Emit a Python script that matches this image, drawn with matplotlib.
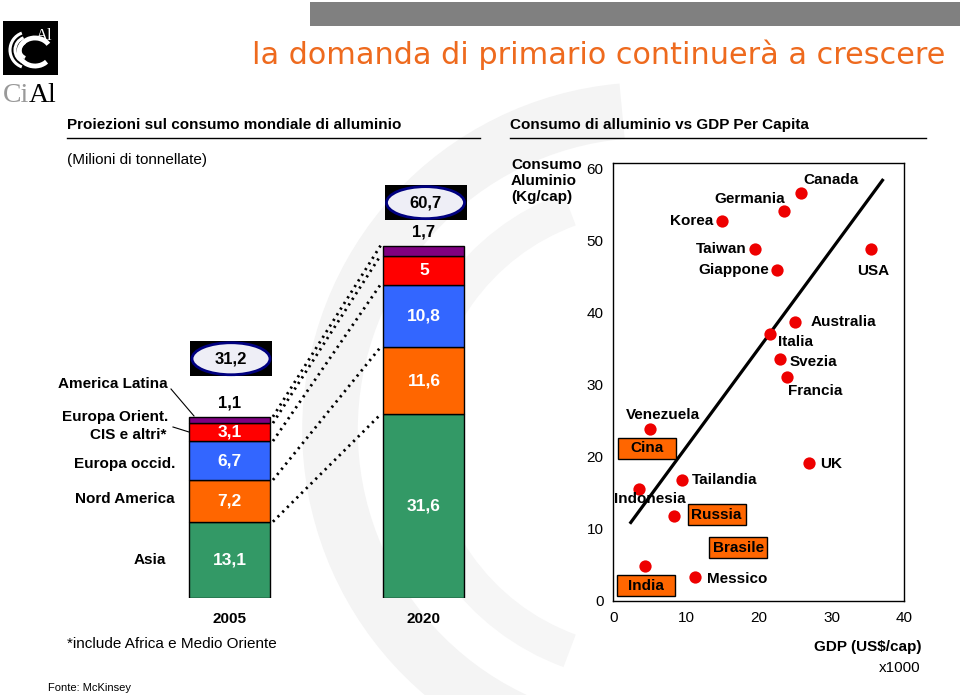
import numpy as np
import matplotlib
matplotlib.use("Agg")
import matplotlib.pyplot as plt
from matplotlib.patches import Rectangle, Ellipse, Arc

W, H = 960, 695
plt.rcParams['font.family'] = ['Liberation Sans', 'DejaVu Sans']

# consumo mondiale (milioni di tonnellate)
years = ['2005', '2020']
asia = [13.1, 31.6]
nord_america = [7.2, 11.6]
europa_occ = [6.7, 10.8]
europa_or = [3.1, 5.0]
america_lat = [1.1, 1.7]
totals = [31.2, 60.7]

# consumo (kg/cap) vs GDP (US$/cap x1000)
countries = ['Canada', 'Germania', 'Korea', 'Taiwan', 'Giappone', 'USA', 'Australia',
             'Italia', 'Svezia', 'Francia', 'Venezuela', 'UK', 'Tailandia', 'Indonesia',
             'Messico', 'Russia', 'India']
gdp = [25.8, 23.5, 15.0, 19.5, 22.5, 35.4, 25.0, 21.6, 22.9, 23.9, 5.0, 26.9, 9.4, 3.6,
       11.2, 8.4, 4.3]
consumo = [56.6, 54.1, 52.8, 48.9, 45.9, 48.9, 38.7, 37.0, 33.6, 31.1, 23.9, 19.2, 16.8,
           15.6, 3.3, 11.8, 4.9]
boxed = ['Cina', 'Russia', 'Brasile', 'India']
boxed_x = [4.6, 14.2, 17.2, 4.5]
boxed_y = [21.2, 12.0, 7.4, 2.1]
trend_x = [2.4, 37.0]
trend_y = [10.9, 58.4]

# label placement (offset pixels, alignment)
lab_off = {'Canada': (2, 13, 'left'), 'Germania': (1, 12, 'right'), 'Korea': (-9, 0, 'right'),
           'Taiwan': (-9, 0, 'right'), 'Giappone': (-8, 0, 'right'), 'USA': (2, -22, 'center'),
           'Australia': (15, 0, 'left'), 'Italia': (8, -8, 'left'), 'Svezia': (10, -3, 'left'),
           'Francia': (1, -14, 'left'), 'Venezuela': (13, 14, 'center'), 'UK': (11, -1, 'left'),
           'Tailandia': (10, 0, 'left'), 'Indonesia': (10, -10, 'center'),
           'Messico': (12, -2, 'left')}


def frac(x0, y0, x1, y1):
    return [x0 / W, 1 - y1 / H, (x1 - x0) / W, (y1 - y0) / H]


fig = plt.figure(figsize=(W / 100, H / 100), dpi=100)

# background layer in pixel coordinates
bg = fig.add_axes([0, 0, 1, 1])
bg.set_xlim(0, W)
bg.set_ylim(H, 0)
bg.axis('off')

# faint watermark rings
bg.add_patch(Arc((650, 430), 640, 640, theta1=95, theta2=265, color='#f4f4f4', lw=40, zorder=0))
bg.add_patch(Arc((650, 430), 470, 470, theta1=110, theta2=250, color='#f6f6f6', lw=25, zorder=0))

# grey band on top
bg.add_patch(Rectangle((310, 2), 650, 24, color='#808080', lw=0))

# logo
bg.add_patch(Rectangle((3, 21), 55, 54, color='black', lw=0))
for r in [36, 26, 16]:
    bg.add_patch(Arc((28, 50), r, r, theta1=110, theta2=250, color='white', lw=2.2))
bg.add_patch(Arc((35, 52), 32, 28, theta1=40, theta2=330, color='white', lw=3.5))
bg.text(44, 36, 'Al', color='white', fontsize=12, family='Liberation Serif', ha='center', va='center')
bg.text(3, 95, 'Ci', color='#999999', fontsize=20, family='Liberation Serif', va='center')
bg.text(29, 95, 'Al', color='black', fontsize=20, family='Liberation Serif', va='center')

# title
bg.text(252, 55, 'la domanda di primario continuerà a crescere', color='#ee6a1e',
        fontsize=21.75, family='DejaVu Sans', va='center')

# section headers
bg.text(67, 125, 'Proiezioni sul consumo mondiale di alluminio', fontsize=11, weight='bold', va='center')
bg.plot([67, 480], [137.5, 137.5], color='black', lw=1)
bg.text(510, 125, 'Consumo di alluminio vs GDP Per Capita', fontsize=11, weight='bold', va='center')
bg.plot([510, 926], [137.5, 137.5], color='black', lw=1)

bg.text(67, 160, '(Milioni di tonnellate)', fontsize=11, va='center')
bg.text(67, 644, '*include Africa e Medio Oriente', fontsize=11, va='center')
bg.text(48, 688, 'Fonte: McKinsey', fontsize=8, va='center')

# region labels on the left
bg.text(168, 384, 'America Latina', fontsize=11, weight='bold', ha='right', va='center')
bg.text(168, 417, 'Europa Orient.', fontsize=11, weight='bold', ha='right', va='center')
bg.text(166, 435, 'CIS e altri*', fontsize=11, weight='bold', ha='right', va='center')
bg.text(175, 464, 'Europa occid.', fontsize=11, weight='bold', ha='right', va='center')
bg.text(175, 499, 'Nord America', fontsize=11, weight='bold', ha='right', va='center')
bg.text(166, 560, 'Asia', fontsize=11, weight='bold', ha='right', va='center')
bg.plot([171, 194], [389, 416], color='black', lw=0.8)
bg.plot([173, 189], [427, 432], color='black', lw=0.8)

# scatter axis titles
bg.text(511, 181, 'Consumo\nAluminio\n(Kg/cap)', fontsize=11, weight='bold', va='center',
        linespacing=1.15)
bg.text(922, 647, 'GDP (US$/cap)', fontsize=11, weight='bold', ha='right', va='center')
bg.text(920, 668, 'x1000', fontsize=11, ha='right', va='center')

# ---- stacked bars ----
bar_ax = fig.add_axes(frac(0, 160, 480, 597.7))
bar_ax.set_xlim(-1.18, 1.288)
bar_ax.set_ylim(0, (597.7 - 160) / 5.8)
bar_ax.axis('off')
bar_ax.patch.set_alpha(0)

xpos = np.arange(len(years))
bw = 0.4165
series = [asia, nord_america, europa_occ, europa_or, america_lat]
colors = ['#339966', '#ff6600', '#3366ff', '#ff0000', '#800080']
bottom = np.zeros(len(years))
tops = []
for vals, col in zip(series, colors):
    bar_ax.bar(xpos, vals, bw, bottom=bottom, color=col, edgecolor='black', lw=1)
    for i, v in enumerate(vals):
        lab = f'{v:g}'.replace('.', ',')
        if col == '#800080':
            bar_ax.annotate(lab, (xpos[i], bottom[i] + v), xytext=(0, 14),
                            textcoords='offset pixels', ha='center', va='center',
                            fontsize=12, weight='bold')
        else:
            bar_ax.text(xpos[i], bottom[i] + v / 2, lab, ha='center', va='center',
                        color='white', fontsize=12.5, weight='bold')
    bottom = bottom + np.array(vals)
    tops.append(bottom.copy())

# dotted connectors
for t in tops:
    bar_ax.plot([xpos[0] + bw / 2 + 0.015, xpos[1] - bw / 2 - 0.015], [t[0], t[1]],
                color='black', lw=2, ls=(0, (0.8, 1.6)))

# totals in ellipses
tot_off = [58, 43]
for i, t in enumerate(totals):
    bar_ax.annotate(f'{t:g}'.replace('.', ','), (xpos[i], t), xytext=(1.5, tot_off[i]),
                    textcoords='offset pixels', ha='center', va='center',
                    fontsize=12, weight='bold', zorder=5)
    yc = 597.7 - t * 5.8 - tot_off[i]
    xc = 229.5 + i * 194.5 + 1.5
    bg.add_patch(Rectangle((xc - 41, yc - 17.5), 82, 35, color='black', lw=0))
    bg.add_patch(Ellipse((xc, yc), 78, 32, facecolor='#eeeef6', edgecolor='#000080', lw=2))

for i, y in enumerate(years):
    bar_ax.annotate(y, (xpos[i], 0), xytext=(0, -21), textcoords='offset pixels',
                    ha='center', va='center', fontsize=11, weight='bold')

# ---- scatter ----
sc = fig.add_axes(frac(613.3, 163, 904.3, 601))
sc.patch.set_alpha(0)
sc.set_xlim(0, 40)
sc.set_ylim(0, 60.8)
sc.set_xticks([0, 10, 20, 30, 40])
sc.set_yticks([0, 10, 20, 30, 40, 50, 60])
sc.tick_params(length=0, labelsize=11, pad=7)
for s in sc.spines.values():
    s.set_linewidth(1)

sc.plot(trend_x, trend_y, color='black', lw=2.3, zorder=2)
sc.scatter(gdp, consumo, s=78, color='#ee0000', zorder=3, lw=0)
for name, x, y in zip(countries, gdp, consumo):
    if name in lab_off:
        dx, dy, ha = lab_off[name]
        sc.annotate(name, (x, y), xytext=(dx, dy), textcoords='offset pixels',
                    ha=ha, va='center', fontsize=11, weight='bold', zorder=4)

bw_u, bh_u = 58 / 7.275, 21 / 7.2
for name, x, y in zip(boxed, boxed_x, boxed_y):
    sc.add_patch(Rectangle((x - bw_u / 2, y - bh_u / 2), bw_u, bh_u, facecolor='#ff6600',
                           edgecolor='black', lw=1, zorder=4))
    sc.text(x, y, name, ha='center', va='center', fontsize=11, weight='bold', zorder=5)

fig.savefig('out.png', dpi=100)
